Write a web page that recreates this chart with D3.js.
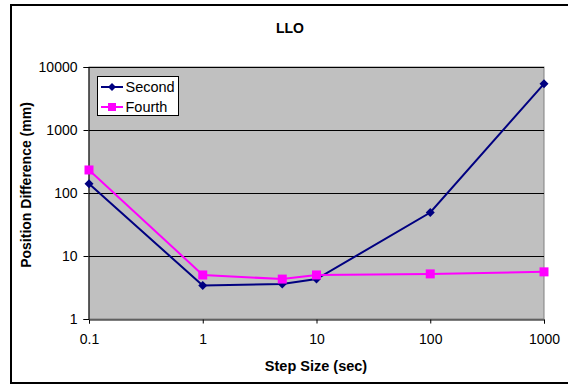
<!DOCTYPE html>
<html><head><meta charset="utf-8">
<script src="https://cdn.jsdelivr.net/npm/d3@7"></script>
<style>body{margin:0;background:#fff}svg{display:block}text{font-family:"Liberation Sans",Arial,sans-serif}</style>
</head><body><svg id="c" width="568" height="388"></svg>
<script>
const stepSizes = [0.1, 1, 5, 10, 100, 1000];
const second = [140, 3.4, 3.6, 4.3, 49, 5400];
const fourth = [232, 5.0, 4.3, 5.0, 5.2, 5.6];
const xTicks = [0.1, 1, 10, 100, 1000];
const yTicks = [1, 10, 100, 1000, 10000];
const seriesNames = ["Second", "Fourth"];
const colors = ["#000080", "#FF00FF"];

const svg = d3.select("#c");
const L = 89, R = 544, T = 67, B = 319;
const x = d3.scaleLog().domain([0.1, 1000]).range([L, R]);
const y = d3.scaleLog().domain([1, 10000]).range([B, T]);

// outer border
svg.append("rect").attr("x", 11).attr("y", 5).attr("width", 600).attr("height", 378)
  .attr("fill", "none").attr("stroke", "#000").attr("stroke-width", 2);

// plot area
svg.append("rect").attr("x", L).attr("y", T).attr("width", R - L).attr("height", B - T)
  .attr("fill", "#C0C0C0").attr("stroke", "#808080").attr("stroke-width", 1);

// gridlines
svg.append("g").selectAll("line").data(yTicks.slice(1)).join("line")
  .attr("x1", L).attr("x2", R).attr("y1", d => Math.round(y(d)) + 0.5).attr("y2", d => Math.round(y(d)) + 0.5)
  .attr("stroke", "#000").attr("stroke-width", 1);

// axes
const xAxis = d3.axisBottom(x).tickValues(xTicks).tickFormat(d => String(d)).tickSize(4).tickPadding(11);
const yAxis = d3.axisLeft(y).tickValues(yTicks).tickFormat(d => String(d)).tickSize(5).tickPadding(6);
const gx = svg.append("g").attr("transform", `translate(0,${B + 0.5})`).call(xAxis);
const gy = svg.append("g").attr("transform", `translate(${L - 0.5},0)`).call(yAxis);
[gx, gy].forEach(g => {
  g.select(".domain").attr("stroke", "#000");
  g.selectAll(".tick line").attr("stroke", "#000");
  g.selectAll(".tick text").attr("font-size", 14).attr("fill", "#000")
    .style("font-family", '"Liberation Sans", Arial, sans-serif');
});

// lines and markers
const data = [second, fourth];
const line = d3.line().x((d, i) => x(stepSizes[i])).y(d => y(d));
data.forEach((vals, si) => {
  svg.append("path").datum(vals).attr("d", line).attr("fill", "none")
    .attr("stroke", colors[si]).attr("stroke-width", 2);
});
// second: diamonds
svg.append("g").selectAll("path").data(second).join("path")
  .attr("transform", (d, i) => `translate(${x(stepSizes[i])},${y(d)})`)
  .attr("d", "M0,-4.5L4.5,0L0,4.5L-4.5,0Z").attr("fill", colors[0]);
// fourth: squares
svg.append("g").selectAll("rect").data(fourth).join("rect")
  .attr("x", (d, i) => x(stepSizes[i]) - 4.5).attr("y", d => y(d) - 4.5)
  .attr("width", 9).attr("height", 9).attr("fill", colors[1]);

// title
svg.append("text").attr("x", 290).attr("y", 33).attr("text-anchor", "middle")
  .attr("font-size", 14).attr("font-weight", "bold").text("LLO");
// axis titles
svg.append("text").attr("x", 316).attr("y", 371).attr("text-anchor", "middle")
  .attr("font-size", 14.5).attr("font-weight", "bold").text("Step Size (sec)");
svg.append("text").attr("transform", `translate(31,185) rotate(-90)`)
  .attr("text-anchor", "middle").attr("font-size", 14).attr("font-weight", "bold")
  .text("Position Difference (mm)");

// legend
const lg = svg.append("g");
lg.append("rect").attr("x", 97.5).attr("y", 76.5).attr("width", 81).attr("height", 39)
  .attr("fill", "#fff").attr("stroke", "#000").attr("stroke-width", 1);
seriesNames.forEach((n, i) => {
  const cy = 87 + i * 20;
  lg.append("line").attr("x1", 101).attr("x2", 123).attr("y1", cy).attr("y2", cy)
    .attr("stroke", colors[i]).attr("stroke-width", 2);
  if (i === 0) lg.append("path").attr("transform", `translate(112,${cy})`).attr("d", "M0,-4L4,0L0,4L-4,0Z").attr("fill", colors[i]);
  else lg.append("rect").attr("x", 108).attr("y", cy - 4).attr("width", 8).attr("height", 8).attr("fill", colors[i]);
  lg.append("text").attr("x", 125.5).attr("y", cy + 5).attr("font-size", 14.5).text(n);
});
</script></body></html>
